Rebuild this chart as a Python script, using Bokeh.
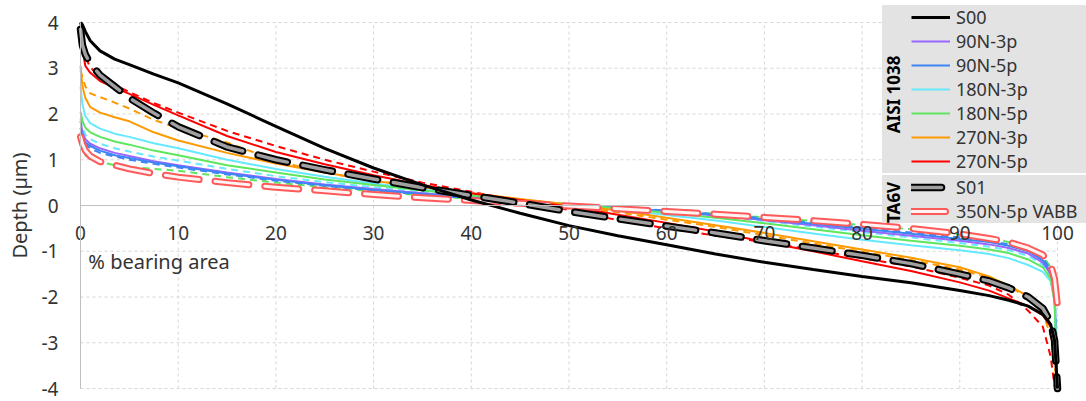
from bokeh.plotting import figure
from bokeh.models import Range1d, Legend, LegendItem, Label, FixedTicker
from bokeh.embed import file_html
from bokeh.resources import INLINE

# ---------------- data ----------------
X = [0, 0.2, 0.5, 1, 2, 3.5, 5, 7.5, 10, 15, 20, 25, 30, 35, 40, 45, 50, 55, 60,
     65, 70, 75, 80, 85, 90, 93, 95, 97, 98.5, 99.3, 99.7, 100]

S00 = [4.0, 3.95, 3.8, 3.6, 3.38, 3.2, 3.08, 2.87, 2.68, 2.22, 1.73, 1.25, 0.82, 0.45, 0.12, -0.17,
       -0.44, -0.66, -0.86, -1.06, -1.24, -1.4, -1.55, -1.69, -1.86, -1.97, -2.07, -2.2, -2.38, -2.6, -2.95, -4.0]
N90_3P = [1.85, 1.6, 1.45, 1.35, 1.25, 1.15, 1.08, 0.97, 0.88, 0.72, 0.58, 0.46, 0.36, 0.27, 0.18, 0.1,
          0.02, -0.05, -0.13, -0.22, -0.32, -0.43, -0.55, -0.66, -0.77, -0.85, -0.93, -1.05, -1.25, -1.5, -2.0, -4.0]
N90_5P = [1.7, 1.5, 1.38, 1.3, 1.2, 1.1, 1.04, 0.94, 0.86, 0.7, 0.56, 0.44, 0.34, 0.25, 0.17, 0.09,
          0.02, -0.05, -0.12, -0.2, -0.3, -0.4, -0.51, -0.62, -0.73, -0.8, -0.88, -1.0, -1.2, -1.45, -1.9, -4.0]
N180_3P = [2.6, 2.2, 1.95, 1.8, 1.68, 1.57, 1.5, 1.36, 1.25, 1.0, 0.8, 0.63, 0.48, 0.35, 0.24, 0.13,
           0.02, -0.09, -0.21, -0.33, -0.47, -0.61, -0.75, -0.87, -0.98, -1.06, -1.15, -1.3, -1.45, -1.65, -2.1, -4.0]
N180_5P = [2.05, 1.85, 1.7, 1.6, 1.5, 1.4, 1.33, 1.2, 1.1, 0.88, 0.72, 0.57, 0.45, 0.33, 0.22, 0.12,
           0.03, -0.06, -0.16, -0.27, -0.39, -0.52, -0.65, -0.77, -0.88, -0.96, -1.04, -1.18, -1.35, -1.6, -2.1, -4.0]
N270_3P = [3.05, 2.6, 2.35, 2.15, 2.03, 1.93, 1.84, 1.6, 1.42, 1.15, 0.92, 0.72, 0.54, 0.4, 0.27, 0.14,
           0.02, -0.11, -0.27, -0.43, -0.6, -0.78, -0.96, -1.14, -1.35, -1.55, -1.75, -1.98, -2.25, -2.6, -3.15, -4.0]
N270_5P = [4.0, 3.4, 3.05, 2.9, 2.72, 2.57, 2.44, 2.2, 1.97, 1.52, 1.17, 0.9, 0.66, 0.45, 0.27, 0.12,
           -0.02, -0.2, -0.38, -0.57, -0.8, -1.0, -1.22, -1.43, -1.68, -1.86, -2.03, -2.2, -2.4, -2.65, -2.9, -4.0]
S01 = [3.85, 3.5, 3.3, 3.1, 2.85, 2.6, 2.35, 2.02, 1.72, 1.28, 1.0, 0.78, 0.58, 0.39, 0.22, 0.05,
       -0.13, -0.29, -0.45, -0.6, -0.77, -0.93, -1.09, -1.27, -1.5, -1.65, -1.8, -2.0, -2.25, -2.55, -2.95, -4.0]
VABB = [1.5, 1.35, 1.2, 1.08, 0.96, 0.88, 0.8, 0.7, 0.62, 0.5, 0.4, 0.32, 0.24, 0.17, 0.11, 0.05,
        -0.01, -0.07, -0.13, -0.19, -0.26, -0.33, -0.41, -0.5, -0.62, -0.72, -0.8, -0.93, -1.08, -1.3, -1.6, -2.2]

# unlabelled dashed curves
RED_DASH = [4.0, 3.6, 3.25, 3.02, 2.82, 2.63, 2.48, 2.24, 2.03, 1.63, 1.3, 1.0, 0.74, 0.5, 0.3, 0.1,
            -0.1, -0.32, -0.5, -0.66, -0.8, -0.97, -1.15, -1.33, -1.58, -1.75, -1.95, -2.3, -2.65, -3.3, -3.95, -4.0]
ORANGE_DASH = [2.95, 2.8, 2.6, 2.45, 2.37, 2.25, 2.12, 1.87, 1.69, 1.38, 0.98, 0.72, 0.54, 0.4, 0.26, 0.12,
               0.0, -0.15, -0.31, -0.47, -0.65, -0.83, -1.01, -1.19, -1.4, -1.58, -1.76, -2.02, -2.35, -2.85, -3.5, -4.0]
CYAN_DASH = [1.9, 1.7, 1.55, 1.45, 1.35, 1.25, 1.18, 1.07, 0.98, 0.8, 0.64, 0.51, 0.4, 0.3, 0.2, 0.11,
             0.02, -0.06, -0.14, -0.23, -0.34, -0.46, -0.58, -0.7, -0.82, -0.9, -0.98, -1.1, -1.3, -1.55, -2.0, -4.0]
BLUE_DASH = [1.6, 1.45, 1.33, 1.25, 1.15, 1.07, 1.0, 0.91, 0.83, 0.68, 0.54, 0.43, 0.33, 0.24, 0.16, 0.09,
             0.02, -0.05, -0.11, -0.19, -0.28, -0.38, -0.48, -0.59, -0.7, -0.78, -0.85, -0.97, -1.15, -1.4, -1.85, -4.0]
GREEN_DASH = [1.35, 1.2, 1.1, 1.02, 0.95, 0.88, 0.84, 0.8, 0.76, 0.62, 0.5, 0.4, 0.31, 0.22, 0.15, 0.08,
              0.01, -0.06, -0.12, -0.18, -0.26, -0.34, -0.43, -0.52, -0.64, -0.72, -0.8, -0.93, -1.1, -1.35, -1.8, -4.0]

X_TICKS = [0, 10, 20, 30, 40, 50, 60, 70, 80, 90, 100]
X_TICK_LABELS = ["0", "10", "20", "30", "40", "50", "60", "70", "80", "90", "100"]
Y_TICKS = [-4, -3, -2, -1, 0, 1, 2, 3, 4]
Y_TICK_LABELS = ["-4", "-3", "-2", "-1", "0", "1", "2", "3", "4"]

GROUP1_TITLE = "AISI 1038"
GROUP2_TITLE = "TA6V"
X_TITLE = "% bearing area"
Y_TITLE = "Depth (µm)"

FONT = "Noto Sans"
TEXT = "#333333"

C_PURPLE = "#9966FF"
C_BLUE = "#3D85F5"
C_CYAN = "#66E8FF"
C_GREEN = "#5EE65E"
C_ORANGE = "#FF9900"
C_RED = "#FF0000"

# ---------------- figure ----------------
# The frame covers the whole canvas (nothing gets clipped); the data area
# 0..100 x -4..4 sits at pixels 80..1057 x 22..388, axes are fixed at x=0 / y=0.
W, H = 1086, 401
PX_L, PX_R, PX_T, PX_B = 80, 1057, 22, 388
sx = (PX_R - PX_L) / 100.0
sy = (PX_B - PX_T) / 8.0
x_rng = Range1d(-PX_L / sx, 100 + (W - PX_R) / sx)
y_rng = Range1d(-4 - (H - PX_B) / sy, 4 + PX_T / sy)

p = figure(width=W, height=H, x_range=x_rng, y_range=y_rng,
           output_backend="svg", toolbar_location=None,
           min_border_left=0, min_border_right=0, min_border_top=0, min_border_bottom=0)
p.outline_line_color = None
p.background_fill_color = "white"
p.border_fill_color = "white"

# grid, restricted to the data area
p.xgrid.visible = False
p.ygrid.visible = False
p.segment(x0=X_TICKS, x1=X_TICKS, y0=[Y_TICKS[0]] * len(X_TICKS), y1=[Y_TICKS[-1]] * len(X_TICKS),
          line_color="#d6d6d6", line_dash="3 3", line_width=1)
p.segment(x0=[X_TICKS[0]] * len(Y_TICKS), x1=[X_TICKS[-1]] * len(Y_TICKS), y0=Y_TICKS, y1=Y_TICKS,
          line_color="#d6d6d6", line_dash="3 3", line_width=1)

xa = p.xaxis[0]
ya = p.yaxis[0]
xa.fixed_location = 0
ya.fixed_location = 0
xa.bounds = (X_TICKS[0], X_TICKS[-1])
ya.bounds = (Y_TICKS[0], Y_TICKS[-1])
xa.ticker = FixedTicker(ticks=X_TICKS)
ya.ticker = FixedTicker(ticks=Y_TICKS)
xa.major_label_overrides = {t: s for t, s in zip(X_TICKS, X_TICK_LABELS)}
ya.major_label_overrides = {t: s for t, s in zip(Y_TICKS, Y_TICK_LABELS)}
for ax in (xa, ya):
    ax.axis_line_color = "#bfbfbf"
    ax.axis_line_width = 1
    ax.major_tick_line_color = None
    ax.minor_tick_line_color = None
    ax.major_tick_in = 0
    ax.major_tick_out = 0
    ax.minor_tick_in = 0
    ax.minor_tick_out = 0
    ax.major_label_text_font = FONT
    ax.major_label_text_font_size = "19px"
    ax.major_label_text_color = TEXT
xa.major_label_standoff = 20
ya.major_label_standoff = 22
ya.axis_label = Y_TITLE
ya.axis_label_standoff = 6
ya.axis_label_text_font = FONT
ya.axis_label_text_font_size = "20px"
ya.axis_label_text_font_style = "normal"
ya.axis_label_text_color = TEXT

p.add_layout(Label(x=0.8, y=-1.23, text=X_TITLE, text_font=FONT, text_font_size="20px",
                   text_color=TEXT, text_baseline="middle", text_align="left"))

# ---------------- curves ----------------
def dashed(y, color):
    p.line(X, y, line_color=color, line_width=2, line_dash="7 5")

dashed(GREEN_DASH, C_GREEN)
dashed(BLUE_DASH, C_BLUE)
dashed(CYAN_DASH, C_CYAN)
dashed(ORANGE_DASH, C_ORANGE)
dashed(RED_DASH, C_RED)

r90_3 = p.line(X, N90_3P, line_color=C_PURPLE, line_width=2)
r90_5 = p.line(X, N90_5P, line_color=C_BLUE, line_width=2)
r180_3 = p.line(X, N180_3P, line_color=C_CYAN, line_width=2)
r180_5 = p.line(X, N180_5P, line_color=C_GREEN, line_width=2)
r270_3 = p.line(X, N270_3P, line_color=C_ORANGE, line_width=2)
r270_5 = p.line(X, N270_5P, line_color=C_RED, line_width=2)

rv_o = p.line(X, VABB, line_color="#FF5A5A", line_width=7, line_dash="34 16", line_cap="round", line_join="round")
rv_i = p.line(X, VABB, line_color="#FFF2F2", line_width=3, line_dash="34 16", line_cap="round", line_join="round")
rs1_o = p.line(X, S01, line_color="#000000", line_width=7.5, line_dash="30 16", line_cap="round", line_join="round")
rs1_i = p.line(X, S01, line_color="#A0A0A0", line_width=3.5, line_dash="30 16", line_cap="round", line_join="round")

rs0 = p.line(X, S00, line_color="#000000", line_width=3)

# ---------------- legends (group name as vertical title on the left) ----------------
common = dict(background_fill_color="#E3E3E3", background_fill_alpha=1.0,
              border_line_color=None, padding=0, margin=0, spacing=0,
              glyph_height=16, glyph_width=39, label_height=16, label_width=130,
              label_standoff=6, label_text_font=FONT, label_text_font_size="18px",
              label_text_color=TEXT, title_location="left", title_standoff=6,
              title_text_font=FONT, title_text_font_style="bold",
              title_text_font_size="17px", title_text_color="#000000")

LEG_LEFT = 882
# the vertical title is drawn from the bottom of its box: lead it with
# no-break spaces so that it sits in the middle of the taller upper box
leg1 = Legend(items=[
    LegendItem(label="S00", renderers=[rs0]),
    LegendItem(label="90N-3p", renderers=[r90_3]),
    LegendItem(label="90N-5p", renderers=[r90_5]),
    LegendItem(label="180N-3p", renderers=[r180_3]),
    LegendItem(label="180N-5p", renderers=[r180_5]),
    LegendItem(label="270N-3p", renderers=[r270_3]),
    LegendItem(label="270N-5p", renderers=[r270_5]),
], title="\u00a0" * 9 + GROUP1_TITLE, location=(LEG_LEFT, H - 173), **common)

leg2 = Legend(items=[
    LegendItem(label="S01", renderers=[rs1_o, rs1_i]),
    LegendItem(label="350N-5p VABB", renderers=[rv_o, rv_i]),
], title=GROUP2_TITLE, location=(LEG_LEFT, H - 223), **common)

p.add_layout(leg1)
p.add_layout(leg2)

open("out.html", "w").write(file_html(p, INLINE))
